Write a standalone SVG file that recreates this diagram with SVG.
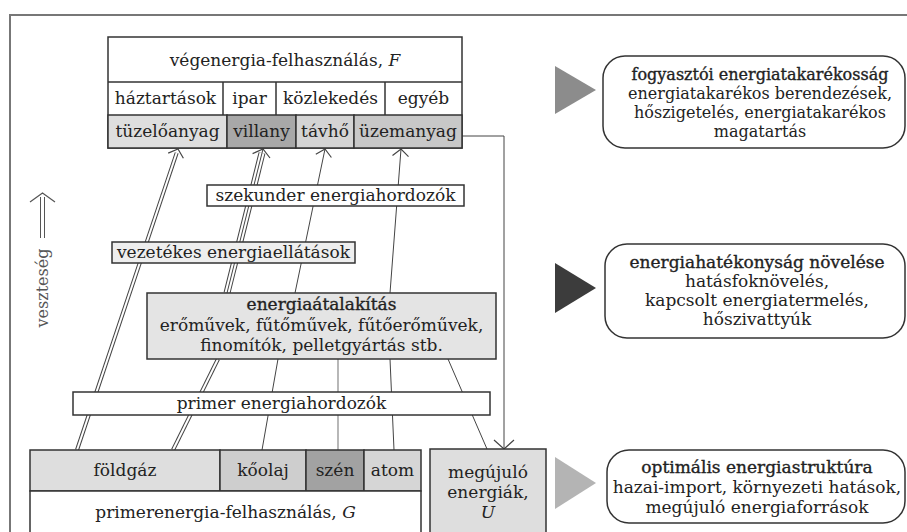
<svg xmlns="http://www.w3.org/2000/svg" width="907" height="532" viewBox="0 0 907 532">
<style>
.t{font-family:"DejaVu Serif","Liberation Serif",serif;font-size:17px;fill:#222;text-anchor:middle}
.s{font-size:16px}
.h{stroke:#222;stroke-width:0.35}
.box{stroke:#333;stroke-width:1.5}
.ln{stroke:#444;stroke-width:1;fill:none}
.lg{stroke:#888;stroke-width:1.2;fill:none}
.d4{stroke:#444;stroke-width:4;fill:none}
.d7{stroke:#444;stroke-width:7;fill:none}
.w2{stroke:#fff;stroke-width:2;fill:none}
.w5{stroke:#fff;stroke-width:5;fill:none}
.hd{stroke:#444;stroke-width:1.2;fill:none}
.rb{fill:#fff;stroke:#333;stroke-width:1.5}
</style>
<rect width="907" height="532" fill="#fff"/>
<rect id="frame" x="10" y="15" width="930" height="540" fill="none" stroke="#777" stroke-width="2"/>

<g id="connectors">
  <path class="d4" d="M77,450 L176.7,152.8"/>
  <path class="w2" d="M77,450 L176.7,152.8"/>
  <path class="hd" d="M168.2,153.1 L178,149 L183.4,158.2"/>
  <path class="d4" d="M173,450 L218,359"/>
  <path class="w2" d="M173,450 L218,359"/>
  <path class="d7" d="M227,293 L262,153"/>
  <path class="w5" d="M227,293 L262,153"/>
  <path class="ln" d="M227,293 L263,149"/>
  <path class="hd" d="M252.6,153.6 L263,149 L270,158"/>
  <path class="ln" d="M295,293 L325,149"/>
  <path class="hd" d="M315.8,154.2 L325,149 L331.4,157.5"/>
  <path class="ln" d="M390,293 L401,149"/>
  <path class="hd" d="M392.5,155.4 L401,149 L408.5,156.6"/>
  <path class="ln" d="M262,450 L278,359"/>
  <path class="lg" d="M338,450 L338,359"/>
  <path class="ln" d="M394,450 L390,359"/>
  <path class="ln" d="M487,449 L448,359"/>
  <path class="ln" d="M462,136 L504,136 L504,448"/>
  <path class="hd" d="M494,440 L504,449 L514,440"/>
</g>

<g id="loss">
  <path stroke="#555" stroke-width="5" fill="none" d="M42.5,238 L42.5,197"/>
  <path stroke="#fff" stroke-width="3" fill="none" d="M42.5,239 L42.5,197"/>
  <path stroke="#555" stroke-width="1.2" fill="none" d="M30,202 L42.5,193 L55,202"/>
  <text class="t" style="fill:#555;font-size:16px" transform="translate(48,288) rotate(-90)">veszteség</text>
</g>

<g id="final-energy">
  <rect class="box" x="108" y="37" width="354" height="111" fill="#fff"/>
  <line class="box" x1="108" y1="82" x2="462" y2="82"/>
  <line class="box" x1="223" y1="82" x2="223" y2="115"/>
  <line class="box" x1="276" y1="82" x2="276" y2="115"/>
  <line class="box" x1="385" y1="82" x2="385" y2="115"/>
  <rect class="box" x="108" y="115" width="119" height="33" fill="#dedede"/>
  <rect class="box" x="227" y="115" width="69" height="33" fill="#a8a8a8"/>
  <rect class="box" x="296" y="115" width="58" height="33" fill="#d4d4d4"/>
  <rect class="box" x="354" y="115" width="108" height="33" fill="#c8c8c8"/>
  <text class="t" x="285" y="66">végenergia-felhasználás, <tspan font-style="italic">F</tspan></text>
  <text class="t" x="165.5" y="104">háztartások</text>
  <text class="t" x="249.5" y="104">ipar</text>
  <text class="t" x="330.5" y="104">közlekedés</text>
  <text class="t" x="423.5" y="104">egyéb</text>
  <text class="t" x="167.5" y="137">tüzelőanyag</text>
  <text class="t" x="261.5" y="137">villany</text>
  <text class="t" x="325" y="137">távhő</text>
  <text class="t" x="408" y="137">üzemanyag</text>
</g>

<g id="secondary">
  <rect class="box" x="207" y="185" width="257" height="21" fill="#fff"/>
  <text class="t" x="335.5" y="201">szekunder energiahordozók</text>
</g>

<g id="grid-supply">
  <rect class="box" x="112" y="242" width="243" height="21" fill="#eeeeee"/>
  <text class="t" x="233.5" y="258">vezetékes energiaellátások</text>
</g>

<g id="conversion">
  <rect class="box" x="147" y="293" width="349" height="66" fill="#e4e4e4"/>
  <text class="t h" x="321.5" y="310">energiaátalakítás</text>
  <text class="t" x="321.5" y="331">erőművek, fűtőművek, fűtőerőművek,</text>
  <text class="t" x="321.5" y="351">finomítók, pelletgyártás stb.</text>
</g>

<g id="primary">
  <rect class="box" x="73" y="392" width="417" height="23" fill="#fff"/>
  <text class="t" x="281.5" y="409">primer energiahordozók</text>
</g>

<g id="primary-energy">
  <rect class="box" x="30" y="450" width="190" height="41" fill="#dedede"/>
  <rect class="box" x="220" y="450" width="86" height="41" fill="#cecece"/>
  <rect class="box" x="306" y="450" width="58" height="41" fill="#a2a2a2"/>
  <rect class="box" x="364" y="450" width="57" height="41" fill="#d6d6d6"/>
  <rect class="box" x="30" y="491" width="391" height="60" fill="#fff"/>
  <text class="t" x="125" y="476">földgáz</text>
  <text class="t" x="263" y="476">kőolaj</text>
  <text class="t" x="335" y="476">szén</text>
  <text class="t" x="392.5" y="476">atom</text>
  <text class="t" x="225.5" y="518">primerenergia-felhasználás, <tspan font-style="italic">G</tspan></text>
</g>

<g id="renewables">
  <rect class="box" x="430" y="449" width="116" height="100" fill="#dedede"/>
  <text class="t" x="488" y="478">megújuló</text>
  <text class="t" x="488" y="498">energiák,</text>
  <text class="t" x="488" y="518" font-style="italic">U</text>
</g>

<g id="consumer-saving">
  <polygon points="555,66 596,90 555,114" fill="#8c8c8c"/>
  <rect class="rb" x="603" y="56" width="302" height="92" rx="22"/>
  <text class="t s h" x="760" y="80">fogyasztói energiatakarékosság</text>
  <text class="t s" x="760" y="99">energiatakarékos berendezések,</text>
  <text class="t s" x="760" y="118">hőszigetelés, energiatakarékos</text>
  <text class="t s" x="760" y="137">magatartás</text>
</g>

<g id="efficiency">
  <polygon points="555,263 596,288 555,313" fill="#3c3c3c"/>
  <rect class="rb" x="605" y="244" width="300" height="94" rx="22"/>
  <text class="t h" x="757" y="268">energiahatékonyság növelése</text>
  <text class="t" x="757" y="287">hatásfoknövelés,</text>
  <text class="t" x="757" y="306">kapcsolt energiatermelés,</text>
  <text class="t" x="757" y="325">hőszivattyúk</text>
</g>

<g id="optimal-structure">
  <polygon points="555,457 596,483 555,509" fill="#b4b4b4"/>
  <rect class="rb" x="607" y="450" width="298" height="73" rx="22"/>
  <text class="t h" x="757" y="473">optimális energiastruktúra</text>
  <text class="t" x="757" y="493">hazai-import, környezeti hatások,</text>
  <text class="t" x="757" y="513">megújuló energiaforrások</text>
</g>
</svg>
